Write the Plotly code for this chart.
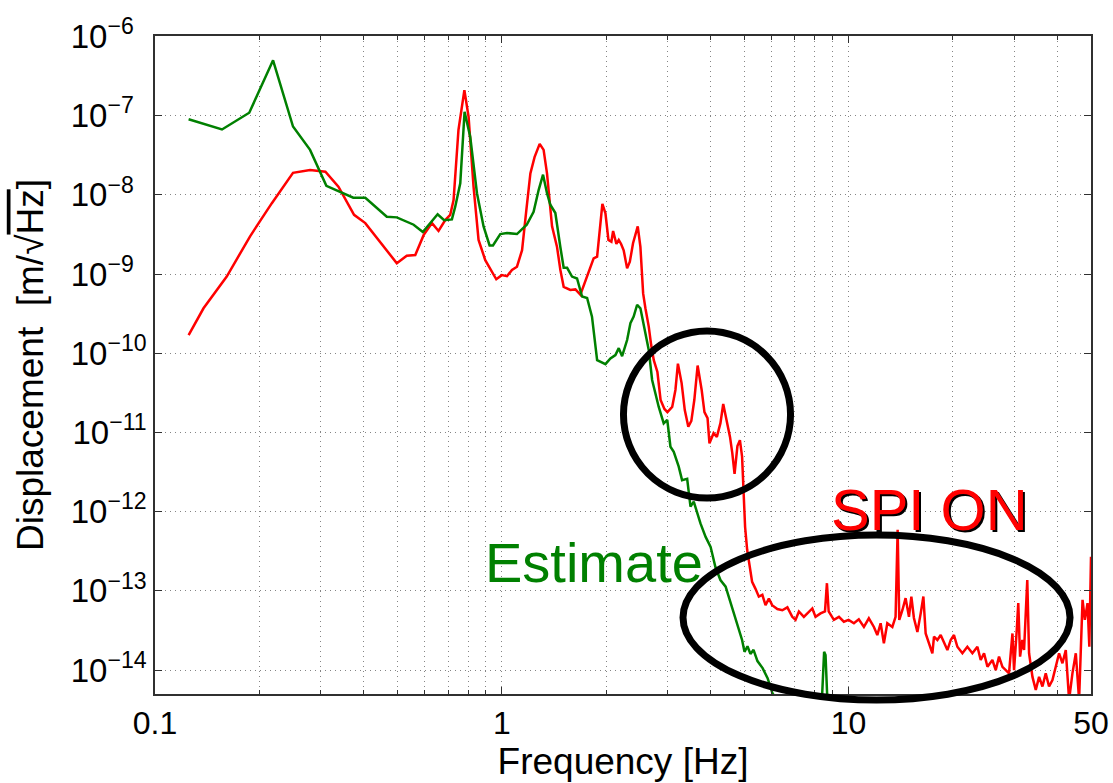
import math
import plotly.graph_objects as go

# Estimated displacement spectrum (green)
green_freq = [0.125, 0.156, 0.187, 0.219, 0.25, 0.28, 0.312, 0.346, 0.373, 0.404,
              0.466, 0.498, 0.557, 0.592, 0.653, 0.682, 0.718, 0.734, 0.759, 0.781,
              0.811, 0.848, 0.886, 0.922, 0.943, 0.99, 1.035, 1.106, 1.18, 1.235,
              1.277, 1.315, 1.35, 1.38, 1.427, 1.475, 1.508, 1.543, 1.594, 1.648,
              1.704, 1.762, 1.82, 1.883, 1.946, 1.99, 2.057, 2.126, 2.174, 2.223,
              2.298, 2.349, 2.40, 2.456, 2.51, 2.595, 2.653, 2.713, 2.835, 2.93,
              3.0, 3.064, 3.132, 3.237, 3.31, 3.424, 3.50, 3.577, 3.74, 3.87,
              4.00, 4.13, 4.27, 4.42, 4.565, 4.77, 4.93, 5.01, 5.11, 5.21,
              5.32, 5.46, 5.65, 5.84, 6.03, 6.28, 8.36, 8.50, 8.58, 8.70,
              10.0, 20.0, 50.0]
green_val = [9.0e-8, 6.7e-8, 1.09e-7, 5.0e-7, 7.3e-8, 3.7e-8, 1.3e-8, 1.05e-8, 9.2e-9, 9.2e-9,
             5.3e-9, 5.2e-9, 4.2e-9, 3.4e-9, 5.7e-9, 4.8e-9, 4.9e-9, 7.1e-9, 1.4e-8, 1.12e-7,
             5.4e-8, 1.05e-8, 4.0e-9, 2.3e-9, 2.3e-9, 3.2e-9, 3.3e-9, 3.2e-9, 4.2e-9, 6.1e-9,
             1.15e-8, 1.8e-8, 1.05e-8, 7.5e-9, 5.9e-9, 2.2e-9, 1.2e-9, 1.2e-9, 9.3e-10, 8.8e-10,
             5.2e-10, 5.0e-10, 2.9e-10, 8.2e-11, 7.6e-11, 7.3e-11, 8.6e-11, 9.5e-11, 1.16e-10, 9.2e-11,
             1.47e-10, 2.4e-10, 2.9e-10, 4.1e-10, 3.7e-10, 1.7e-10, 1.1e-10, 4.6e-11, 2.1e-11, 1.3e-11,
             1.44e-11, 6.6e-12, 5.7e-12, 3.7e-12, 2.5e-12, 2.6e-12, 1.16e-12, 1.34e-12, 7.1e-13, 4.8e-13,
             3.6e-13, 2.0e-13, 1.37e-13, 1.13e-13, 7.0e-14, 3.9e-14, 2.4e-14, 1.7e-14, 2.0e-14, 1.6e-14,
             1.8e-14, 1.3e-14, 1.06e-14, 7.9e-15, 5.1e-15, 4.0e-15, 3.5e-15, 1.7e-14, 1.55e-14, 3.5e-15,
             3.2e-15, 3.0e-15, 3.0e-15]

# Measured displacement spectrum with SPI on (red)
red_freq = [0.125, 0.138, 0.161, 0.188, 0.217, 0.25, 0.28, 0.31, 0.338, 0.375,
            0.404, 0.498, 0.532, 0.563, 0.595, 0.629, 0.657, 0.687, 0.71, 0.726,
            0.75, 0.78, 0.802, 0.829, 0.857, 0.896, 0.964, 1.0, 1.035, 1.07,
            1.106, 1.144, 1.177, 1.209, 1.243, 1.286, 1.32, 1.35, 1.396, 1.443,
            1.475, 1.508, 1.576, 1.63, 1.685, 1.742, 1.80, 1.84, 1.883, 1.915,
            1.95, 1.99, 2.03, 2.07, 2.094, 2.14, 2.174, 2.208, 2.246, 2.298,
            2.34, 2.39, 2.466, 2.51, 2.556, 2.595, 2.653, 2.696, 2.743, 2.81,
            2.87, 2.944, 3.003, 3.10, 3.167, 3.22, 3.30, 3.37, 3.45, 3.52,
            3.59, 3.67, 3.77, 3.84, 3.92, 3.97, 4.08, 4.17, 4.27, 4.35,
            4.46, 4.55, 4.62, 4.69, 4.78, 4.86, 4.93, 4.98, 5.03, 5.10,
            5.19, 5.27, 5.39, 5.51, 5.64, 5.76, 5.89, 6.02, 6.23, 6.44,
            6.66, 6.88, 7.03, 7.19, 7.43, 7.68, 7.86, 8.03, 8.30, 8.55,
            8.66, 8.76, 9.07, 9.38, 9.69, 10.0, 10.36, 10.7, 11.07, 11.44,
            11.83, 12.1, 12.37, 12.64, 12.93, 13.37, 13.66, 13.85, 14.0, 14.29,
            14.6, 14.93, 15.17, 15.43, 15.79, 16.14, 16.43, 16.68, 17.04, 17.44,
            17.63, 18.03, 18.43, 18.84, 19.27, 19.7, 20.13, 20.59, 21.29, 22.0,
            22.75, 23.52, 24.04, 24.58, 25.14, 25.98, 26.56, 27.15, 27.77, 28.39,
            29.01, 29.68, 30.0, 30.54, 30.85, 31.22, 31.7, 32.06, 32.75, 33.14,
            33.9, 34.65, 35.42, 36.22, 37.02, 37.85, 38.71, 39.57, 40.45, 41.37,
            42.29, 43.23, 44.2, 45.2, 46.2, 47.27, 48.0, 48.86, 49.45, 50.0]
red_val = [1.7e-10, 3.7e-10, 9.3e-10, 3.0e-9, 7.8e-9, 1.9e-8, 2.06e-8, 1.96e-8, 1.27e-8, 5.6e-9,
           4.4e-9, 1.37e-9, 1.7e-9, 1.74e-9, 3.1e-9, 4.4e-9, 3.5e-9, 4.8e-9, 5.6e-9, 8.6e-9,
           6.6e-8, 2.1e-7, 9.7e-8, 1.27e-8, 2.7e-9, 1.5e-9, 8.6e-10, 9.7e-10, 9.4e-10, 1.13e-9,
           1.24e-9, 2.0e-9, 6.4e-9, 1.87e-8, 3.0e-8, 4.4e-8, 3.7e-8, 1.87e-8, 4.0e-9, 2.2e-9,
           1.13e-9, 6.9e-10, 6.3e-10, 6.4e-10, 5.5e-10, 8.4e-10, 1.24e-9, 1.58e-9, 1.66e-9, 3.6e-9,
           7.7e-9, 5.85e-9, 2.7e-9, 2.56e-9, 3.5e-9, 2.4e-9, 2.7e-9, 2.4e-9, 2.0e-9, 1.18e-9,
           1.43e-9, 2.45e-9, 4.0e-9, 2.2e-9, 5.7e-10, 3.7e-10, 2.17e-10, 1.27e-10, 8.2e-11, 5.8e-11,
           2.57e-11, 1.98e-11, 1.81e-11, 2.1e-11, 3.44e-11, 7.4e-11, 4.2e-11, 1.92e-11, 1.18e-11, 1.40e-11,
           2.57e-11, 7.0e-11, 3.44e-11, 1.81e-11, 1.52e-11, 7.3e-12, 9.8e-12, 8.8e-12, 1.31e-11, 2.29e-11,
           1.31e-11, 8.8e-12, 5.5e-12, 3.0e-12, 6.75e-12, 8.0e-12, 4.95e-12, 1.62e-12, 6.4e-13, 3.28e-13,
           1.84e-13, 1.30e-13, 1.06e-13, 8.46e-14, 8.9e-14, 6.6e-14, 8.0e-14, 6.6e-14, 5.9e-14, 5.7e-14,
           6.2e-14, 4.7e-14, 4.3e-14, 5.5e-14, 4.7e-14, 5.5e-14, 6.0e-14, 4.7e-14, 5.2e-14, 5.5e-14,
           1.25e-13, 5.5e-14, 4.3e-14, 4.7e-14, 4.08e-14, 4.3e-14, 3.9e-14, 4.38e-14, 3.5e-14, 4.5e-14,
           3.5e-14, 2.77e-14, 3.9e-14, 2.18e-14, 3.9e-14, 3.5e-14, 4.7e-14, 5.9e-13, 4.3e-14, 5.7e-14,
           8.1e-14, 4.7e-14, 8.46e-14, 4.55e-14, 3.03e-14, 5.2e-14, 8.5e-14, 2.9e-14, 2.18e-14, 1.63e-14,
           2.64e-14, 2.4e-14, 2.77e-14, 2.18e-14, 1.79e-14, 2.4e-14, 2.77e-14, 1.97e-14, 1.63e-14, 1.97e-14,
           1.63e-14, 1.97e-14, 1.34e-14, 1.63e-14, 1.1e-14, 1.34e-14, 1.0e-14, 1.48e-14, 1.1e-14, 1.0e-14,
           9.1e-15, 2.9e-14, 1.0e-14, 3.2e-14, 7.0e-14, 1.48e-14, 2.4e-14, 1.79e-14, 1.37e-13, 1.63e-14,
           8.2e-15, 5.6e-15, 8.2e-15, 6.2e-15, 9.1e-15, 6.2e-15, 7.5e-15, 1.1e-14, 1.63e-14, 1.22e-14,
           1.79e-14, 4.2e-15, 9.1e-15, 1.63e-14, 4.2e-15, 7.7e-14, 4.3e-14, 7.0e-14, 1.97e-14, 2.7e-13]

# Axis ticks
x_tick_vals = [0.1, 1, 10, 50]
x_tick_text = ["0.1", "1", "10", "50"]
x_minor_vals = [m * d for d in (0.1, 1, 10) for m in range(2, 10) if m * d < 50]
y_exponents = [-14, -13, -12, -11, -10, -9, -8, -7, -6]
y_tick_vals = [10.0 ** e for e in y_exponents]
# a figure space pads one-digit exponents so the "10" bases line up
y_tick_text = ["10<sup>\u2212%d%s</sup>" % (-e, "\u2007" if -e < 10 else "") for e in y_exponents]

FONT = "Liberation Sans, Arial, Helvetica, sans-serif"
GRID = "#858585"
GRID_DASH = "1px,4px"
AXIS = "#303030"

fig = go.Figure()
fig.add_trace(go.Scatter(x=red_freq, y=red_val, mode="lines",
                         line=dict(color="#ff0000", width=2.5), name="SPI ON"))
fig.add_trace(go.Scatter(x=green_freq, y=green_val, mode="lines",
                         line=dict(color="#008000", width=2.5), name="Estimate"))

fig.update_xaxes(
    type="log", range=[-1, math.log10(50)], automargin=False,
    tickmode="array", tickvals=x_tick_vals, ticktext=x_tick_text,
    ticks="inside", ticklen=7, tickwidth=1, tickcolor=AXIS,
    showline=True, linecolor=AXIS, linewidth=1.5, mirror="ticks",
    showgrid=True, gridcolor=GRID, gridwidth=1, griddash=GRID_DASH,
    minor=dict(tickmode="array", tickvals=x_minor_vals, ticks="inside", ticklen=4,
               tickcolor=AXIS, showgrid=True, gridcolor=GRID, gridwidth=1, griddash=GRID_DASH),
    tickfont=dict(family=FONT, size=32, color="black"),
    title=dict(text="Frequency [Hz]", font=dict(family=FONT, size=37, color="black"), standoff=6),
    zeroline=False,
)
fig.update_yaxes(
    type="log", range=[-14.302, -5.994], automargin=False,
    tickmode="array", tickvals=y_tick_vals, ticktext=y_tick_text,
    ticks="inside", ticklen=7, tickwidth=1, tickcolor=AXIS,
    showline=True, linecolor=AXIS, linewidth=1.5, mirror="ticks",
    showgrid=True, gridcolor=GRID, gridwidth=1, griddash=GRID_DASH,
    tickfont=dict(family=FONT, size=33, color="black"),
    title=dict(text="Displacement  [m/\u221a<span style='text-decoration:overline'>Hz</span>]",
               font=dict(family=FONT, size=37, color="black"), standoff=16),
    zeroline=False,
)

# Highlight outlines (paper coordinates of the plotting area)
fig.add_shape(type="circle", xref="paper", yref="paper",
              x0=0.5005, x1=0.6790, y0=0.2977, y1=0.5517,
              line=dict(color="black", width=7))
fig.add_shape(type="circle", xref="paper", yref="paper",
              x0=0.5641, x1=0.9776, y0=-0.0091, y1=0.2416,
              line=dict(color="black", width=7))

fig.add_annotation(text="Estimate", xref="paper", yref="paper", x=0.3504, y=0.1997,
                   xanchor="left", yanchor="middle", showarrow=False,
                   font=dict(family=FONT, size=56, color="#008000"))
fig.add_annotation(text="SPI ON", xref="paper", yref="paper", x=0.7223, y=0.2768,
                   xanchor="left", yanchor="middle", showarrow=False,
                   font=dict(family=FONT, size=58, color="black"))
fig.add_annotation(text="SPI ON", xref="paper", yref="paper", x=0.7201, y=0.2798,
                   xanchor="left", yanchor="middle", showarrow=False,
                   font=dict(family=FONT, size=58, color="#ff0000"))

fig.update_layout(
    width=1113, height=783,
    margin=dict(l=155, r=22, t=36, b=89, autoexpand=False),
    paper_bgcolor="white", plot_bgcolor="white",
    showlegend=False,
)

fig.write_html("out.html")
